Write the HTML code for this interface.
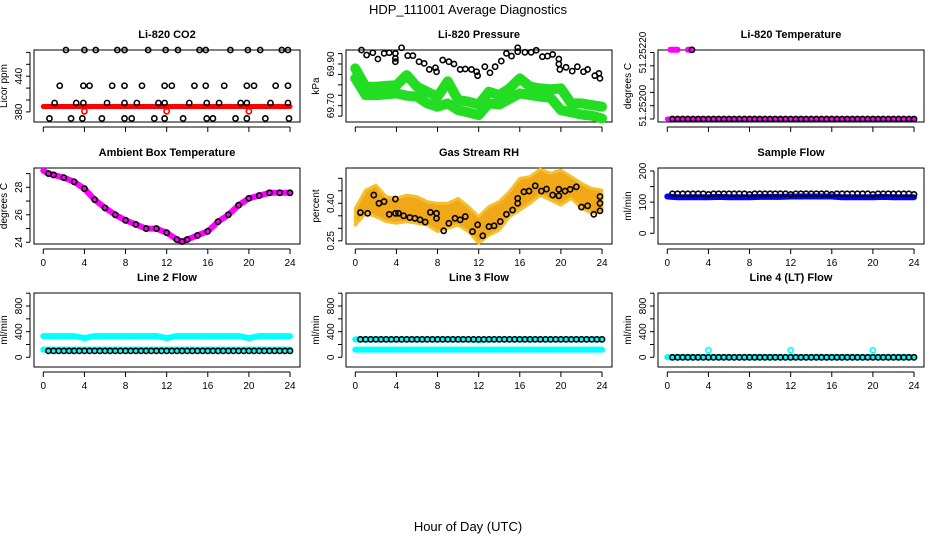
<!DOCTYPE html>
<html><head><meta charset="utf-8"><style>
html,body{margin:0;padding:0;background:#fff;}
svg{display:block;font-family:"Liberation Sans",Arial,sans-serif;}
</style></head><body>
<svg id="chart" width="936" height="540" viewBox="0 0 936 540">
<text x="468" y="14" text-anchor="middle" font-size="13">HDP_111001  Average Diagnostics</text>
<text x="468" y="531" text-anchor="middle" font-size="13">Hour of Day (UTC)</text>
</svg>
<script>
// ---- data ----
const xTicks = [0,4,8,12,16,20,24];
const halfHours = [0.5,1,1.5,2,2.5,3,3.5,4,4.5,5,5.5,6,6.5,7,7.5,8,8.5,9,9.5,10,10.5,11,11.5,12,12.5,13,13.5,14,14.5,15,15.5,16,16.5,17,17.5,18,18.5,19,19.5,20,20.5,21,21.5,22,22.5,23,23.5,24];
const hours = [0,1,2,3,4,5,6,7,8,9,10,11,12,13,14,15,16,17,18,19,20,21,22,23,24];

// CO2
const co2BlackT = [2.2,4.0,5.1,7.2,7.9,10.2,11.9,13.1,15.2,15.8,18.2,19.9,21.1,23.2,23.8, 1.6,3.9,4.5,6.7,7.9,9.6,11.8,12.5,14.7,15.8,17.6,19.8,20.5,22.6,23.8, 1.1,3.2,3.9,6.2,7.9,9.1,11.2,11.8,14.2,15.9,17.1,19.2,19.8,22.1,23.8, 0.6,2.7,3.8,5.7,7.9,8.6,10.8,11.8,13.6,15.9,16.5,18.7,19.8,21.6,23.9];
const co2BlackV = [484,484,484,484,484,484,484,484,484,484,484,484,484,484,484, 424,424,424,424,424,424,424,424,424,424,424,424,424,424,424, 395,395,395,395,395,395,395,395,395,395,395,395,395,395,395, 369,369,369,369,369,369,369,369,369,369,369,369,369,369,369];
const co2Red = [389,389,389,389,389,389,389,389,389,389,389,389,389,389,389,389,389,389,389,389,389,389,389,389,389];
const co2RedOutT = [4,12,20];
const co2RedOutV = [381,381,381];

// Pressure
const presBlackT = [0.6,1.1,1.7,2.2,2.8,3.3,3.9,3.9,3.9,4.5,5.1,5.6,6.2,6.7,7.2,7.8,7.9,8.5,9.1,9.6,10.2,10.7,11.3,11.8,11.9,12.6,13.1,13.6,14.2,14.7,15.2,15.8,15.8,16.5,17.1,17.6,18.2,18.7,19.2,19.8,19.8,19.9,20.5,21.1,21.6,22.2,22.6,23.3,23.7,23.8];
const presBlackV = [69.967,69.943,69.954,69.924,69.951,69.954,69.951,69.927,69.911,69.978,69.94,69.94,69.911,69.903,69.874,69.882,69.863,69.919,69.911,69.90,69.874,69.876,69.874,69.863,69.844,69.887,69.858,69.887,69.914,69.951,69.938,69.959,69.978,69.956,69.956,69.966,69.935,69.938,69.946,69.924,69.90,69.874,69.884,69.866,69.887,69.863,69.874,69.844,69.855,69.831];
const presGreenA = [69.879,69.791,69.791,69.795,69.798,69.847,69.791,69.767,69.743,69.817,69.727,69.719,69.706,69.767,69.751,69.783,69.831,69.791,69.783,69.778,69.783,69.711,69.711,69.703,69.695];
const presGreenB = [69.831,69.751,69.751,69.754,69.759,69.748,69.743,69.711,69.695,69.711,69.679,69.668,69.655,69.711,69.706,69.732,69.759,69.751,69.743,69.738,69.679,69.668,69.658,69.652,69.639];

// Li-820 temperature
const tempLow = [51.25195,51.25195,51.25195,51.25195,51.25195,51.25195,51.25195,51.25195,51.25195,51.25195,51.25195,51.25195,51.25195,51.25195,51.25195,51.25195,51.25195,51.25195,51.25195,51.25195,51.25195,51.25195,51.25195,51.25195,51.25195];
const tempHighT = [0.3,0.6,1.0,2.0,2.3];
const tempHighV = [51.25221,51.25221,51.25221,51.25221,51.25221];
const tempBlackV = [51.25195,51.25195,51.25195,51.25195,51.25195,51.25195,51.25195,51.25195,51.25195,51.25195,51.25195,51.25195,51.25195,51.25195,51.25195,51.25195,51.25195,51.25195,51.25195,51.25195,51.25195,51.25195,51.25195,51.25195,51.25195,51.25195,51.25195,51.25195,51.25195,51.25195,51.25195,51.25195,51.25195,51.25195,51.25195,51.25195,51.25195,51.25195,51.25195,51.25195,51.25195,51.25195,51.25195,51.25195,51.25195,51.25195,51.25195,51.25195];

// Ambient box temperature
const ambT = [0,0.5,1,2,3,4,5,6,7,8,9,10,11,12,13,13.5,14,15,16,17,18,19,20,21,22,23,24];
const ambV = [29.2,29.0,28.9,28.7,28.4,27.9,27.1,26.5,26.0,25.6,25.3,25.0,25.0,24.7,24.2,24.05,24.2,24.5,24.8,25.5,26.0,26.7,27.2,27.4,27.6,27.6,27.6];

// Gas stream RH
const rhT = [0.5,1.2,1.8,2.3,2.8,3.3,3.9,3.9,4.2,4.7,5.3,5.8,6.3,6.8,7.3,7.9,7.9,8.6,9.1,9.7,10.2,10.7,11.4,11.9,12.4,13.0,13.5,14.1,14.7,15.3,15.8,15.8,16.4,16.9,17.5,18.1,18.6,19.2,19.8,19.8,20.4,20.9,21.5,22.0,22.6,23.2,23.8,23.8,23.8];
const rhV = [0.363,0.36,0.433,0.40,0.407,0.356,0.417,0.36,0.36,0.35,0.343,0.34,0.334,0.325,0.364,0.36,0.34,0.29,0.32,0.34,0.334,0.347,0.287,0.314,0.27,0.307,0.31,0.327,0.356,0.373,0.40,0.42,0.446,0.449,0.47,0.449,0.457,0.433,0.456,0.43,0.449,0.456,0.466,0.385,0.39,0.356,0.427,0.40,0.37];
const rhUpper = [0.380,0.453,0.473,0.427,0.420,0.433,0.427,0.407,0.400,0.400,0.420,0.387,0.347,0.387,0.407,0.447,0.500,0.507,0.537,0.520,0.533,0.507,0.480,0.460,0.453];
const rhLower = [0.313,0.360,0.347,0.327,0.320,0.327,0.320,0.313,0.287,0.300,0.313,0.287,0.240,0.273,0.293,0.347,0.373,0.400,0.433,0.413,0.393,0.420,0.380,0.360,0.367];

// Sample flow
const sampleBlue = [118,116,116,116,116,117,116,116,116,117,117,117,118,118,118,118,118,116,116,116,116,117,116,116,116];
const sampleBlack = [127,127,127,127,127,127,127,125,127,127,127,127,127,127,127,125,127,127,127,127,127,127,127,125,127,127,127,127,127,127,127,125,127,127,127,127,127,127,127,125,127,127,127,127,127,127,127,125];

// Line 2
const line2CyanHigh = [330,330,330,330,300,330,330,330,330,330,330,330,300,330,330,330,330,330,330,330,300,330,330,330,330];
const line2CyanLow = [120,120,120,120,120,120,120,120,120,120,120,120,120,120,120,120,120,120,120,120,120,120,120,120,120];
const line2Black = [100,100,100,100,100,100,100,100,100,100,100,100,100,100,100,100,100,100,100,100,100,100,100,100,100,100,100,100,100,100,100,100,100,100,100,100,100,100,100,100,100,100,100,100,100,100,100,100];

// Line 3
const line3CyanHigh = [280,280,280,280,280,280,280,280,280,280,280,280,270,280,280,280,280,280,280,280,280,280,280,280,280];
const line3CyanLow = [120,120,120,120,120,120,120,120,120,120,120,120,120,120,120,120,120,120,120,120,120,120,120,120,120];
const line3Black = [280,280,280,280,280,280,280,280,280,280,280,280,280,280,280,280,280,280,280,280,280,280,280,280,280,280,280,280,280,280,280,280,280,280,280,280,280,280,280,280,280,280,280,280,280,280,280,280];

// Line 4
const line4Cyan = [0,0,0,0,0,0,0,0,0,0,0,0,0,0,0,0,0,0,0,0,0,0,0,0,0];
const line4SpikeT = [4,12,20];
const line4SpikeV = [110,110,110];
const line4Black = [0,0,0,0,0,0,0,0,0,0,0,0,0,0,0,0,0,0,0,0,0,0,0,0,0,0,0,0,0,0,0,0,0,0,0,0,0,0,0,0,0,0,0,0,0,0,0,0];

// ---- drawing ----
const NS = 'http://www.w3.org/2000/svg';
const svg = document.getElementById('chart');
function mk(tag, attrs, parent) {
  const e = document.createElementNS(NS, tag);
  for (const k in attrs) e.setAttribute(k, attrs[k]);
  (parent || svg).appendChild(e);
  return e;
}
const colX = [34, 346, 658];
const rows = [[50,122],[168,244],[293,367]];

function panel(col, row, title, ylab, ymap, yTicks, yLabels, showXLabels, name) {
  const g = mk('g', {});
  
  
  const x0 = colX[col], top = rows[row][0], bot = rows[row][1];
  const xs = t => x0 + 9.3 + t * 10.28;
  const box = mk('rect', {x:x0, y:top, width:266, height:bot-top, fill:'none', stroke:'#000', 'stroke-width':1}, g);
  
  
  const tt = mk('text', {x:x0+133, y:top-12, 'text-anchor':'middle', 'font-size':11, 'font-weight':'bold'}, g);
  tt.textContent = title;
  
  
  const xa = mk('g', {}, g);
  
  
  mk('line', {x1:xs(0), x2:xs(24), y1:bot+5, y2:bot+5, stroke:'#000'}, xa);
  for (const t of xTicks) {
    mk('line', {x1:xs(t), x2:xs(t), y1:bot+5, y2:bot+10, stroke:'#000'}, xa);
    if (showXLabels) {
      const lb = mk('text', {x:xs(t), y:bot+22, 'text-anchor':'middle', 'font-size':10}, xa);
      lb.textContent = t;
    }
  }
  const ya = mk('g', {}, g);
  
  
  const yp = yTicks.map(ymap);
  mk('line', {x1:x0-4, x2:x0-4, y1:Math.min(...yp), y2:Math.max(...yp), stroke:'#000'}, ya);
  for (const v of yTicks) mk('line', {x1:x0-4, x2:x0-8, y1:ymap(v), y2:ymap(v), stroke:'#000'}, ya);
  for (const v of yLabels) {
    const lb = mk('text', {x:0, y:0, 'text-anchor':'middle', 'font-size':10, transform:`translate(${x0-12},${ymap(v[0])}) rotate(-90)`}, ya);
    lb.textContent = v[1];
  }
  const yt = mk('text', {x:0, y:0, 'text-anchor':'middle', 'font-size':10, transform:`translate(${x0-27},${(top+bot)/2}) rotate(-90)`}, g);
  yt.textContent = ylab;
  
  
  return {g, xs, ymap};
}
function band(p, ts, vs, color, w, nm) {
  const pts = ts.map((t,i) => p.xs(t).toFixed(1) + ',' + p.ymap(vs[i]).toFixed(1)).join(' ');
  const pl = mk('polyline', {points:pts, fill:'none', stroke:color, 'stroke-width':w, 'stroke-linejoin':'round', 'stroke-linecap':'round'}, p.g);
  
  
}
function circles(p, ts, vs, color, nm, fill, r) {
  const gg = mk('g', {}, p.g);
  
  
  ts.forEach((t,i) => {
    const c = mk('circle', {cx:p.xs(t), cy:p.ymap(vs[i]), r:r||2.6, fill:fill||'none', stroke:color, 'stroke-width':1.6}, gg);
    
    
  });
}

{
  const p = panel(0,0,'Li-820 CO2','Licor ppm', v => 111.9 - (v-380)*0.595, [380,400,420,440,460,480], [[380,'380'],[440,'440']], false, 'co2');
  band(p, hours, co2Red, '#ff0000', 5, 'co2-red-series');
  circles(p, co2RedOutT, co2RedOutV, '#ff0000', 'co2-red-outliers');
  circles(p, co2BlackT, co2BlackV, '#000', 'co2-black-series');
}
{
  const p = panel(1,0,'Li-820 Pressure','kPa', v => 64 - (v-69.90)*208.5, [69.65,69.70,69.75,69.80,69.85,69.90,69.95], [[69.70,'69.70'],[69.90,'69.90']], false, 'pressure');
  band(p, hours, presGreenA, '#22dd22', 10, 'pressure-green-upper');
  band(p, hours, presGreenB, '#22dd22', 10, 'pressure-green-lower');
  circles(p, presBlackT, presBlackV, '#000', 'pressure-black-series');
}
{
  const p = panel(2,0,'Li-820 Temperature','degrees C', v => 105.7 - (v-51.252)*266000, [51.25195,51.252,51.25205,51.2521,51.25215,51.2522], [[51.252,'51.25200'],[51.2522,'51.25220']], false, 'li820-temp');
  band(p, hours, tempLow, '#ff00ff', 5, 'temp-magenta-low');
  band(p, tempHighT.slice(0,3), tempHighV.slice(0,3), '#ff00ff', 6, 'temp-magenta-high-a');
  band(p, tempHighT.slice(3), tempHighV.slice(3), '#ff00ff', 6, 'temp-magenta-high-b');
  circles(p, halfHours, tempBlackV, '#000', 'temp-black-series');
  circles(p, [2.4], [51.25221], '#000', 'temp-black-high');
}
{
  const p = panel(0,1,'Ambient Box Temperature','degrees C', v => 242.3 - (v-24)*13.75, [24,25,26,27,28,29], [[24,'24'],[26,'26'],[28,'28']], true, 'ambient');
  band(p, ambT, ambV, '#ff00ff', 6, 'ambient-magenta-series');
  circles(p, ambT.slice(1), ambV.slice(1), '#000', 'ambient-black-series');
}
{
  const p = panel(1,1,'Gas Stream RH','percent', v => 203.3 - (v-0.40)*250, [0.25,0.30,0.35,0.40,0.45,0.50], [[0.25,'0.25'],[0.40,'0.40']], true, 'rh');
  const up = hours.map((t,i) => p.xs(t).toFixed(1)+','+p.ymap(rhUpper[i]).toFixed(1));
  const lo = hours.map((t,i) => p.xs(t).toFixed(1)+','+p.ymap(rhLower[i]).toFixed(1)).reverse();
  const area = mk('polygon', {points: up.concat(lo).join(' '), fill:'#f0a818', stroke:'#f5c030', 'stroke-width':3, 'stroke-linejoin':'round'}, p.g);
  
  
  circles(p, rhT, rhV, '#000', 'rh-black-series');
}
{
  const p = panel(2,1,'Sample Flow','ml/min', v => 233.3 - v*0.3115, [0,50,100,150,200], [[0,'0'],[100,'100'],[200,'200']], true, 'sample-flow');
  band(p, hours, sampleBlue, '#0000ff', 6, 'sample-blue-series');
  circles(p, halfHours, sampleBlack, '#000', 'sample-black-series');
}
const fy = v => 357.3 - v*0.0641;
const fTicks = [0,200,400,600,800,1000];
const fLabels = [[0,'0'],[400,'400'],[800,'800']];
{
  const p = panel(0,2,'Line 2 Flow','ml/min', fy, fTicks, fLabels, true, 'line2');
  band(p, hours, line2CyanHigh, '#00ffff', 6, 'line2-cyan-high');
  band(p, hours, line2CyanLow, '#00ffff', 6, 'line2-cyan-low');
  circles(p, halfHours, line2Black, '#000', 'line2-black-series');
}
{
  const p = panel(1,2,'Line 3 Flow','ml/min', fy, fTicks, fLabels, true, 'line3');
  band(p, hours, line3CyanHigh, '#00ffff', 6, 'line3-cyan-high');
  band(p, hours, line3CyanLow, '#00ffff', 6, 'line3-cyan-low');
  circles(p, halfHours, line3Black, '#000', 'line3-black-series');
}
{
  const p = panel(2,2,'Line 4 (LT) Flow','ml/min', fy, fTicks, fLabels, true, 'line4');
  band(p, hours, line4Cyan, '#00ffff', 6, 'line4-cyan-series');
  circles(p, line4SpikeT, line4SpikeV, '#00ffff', 'line4-cyan-spikes');
  circles(p, halfHours, line4Black, '#000', 'line4-black-series');
}
</script>
</body></html>
